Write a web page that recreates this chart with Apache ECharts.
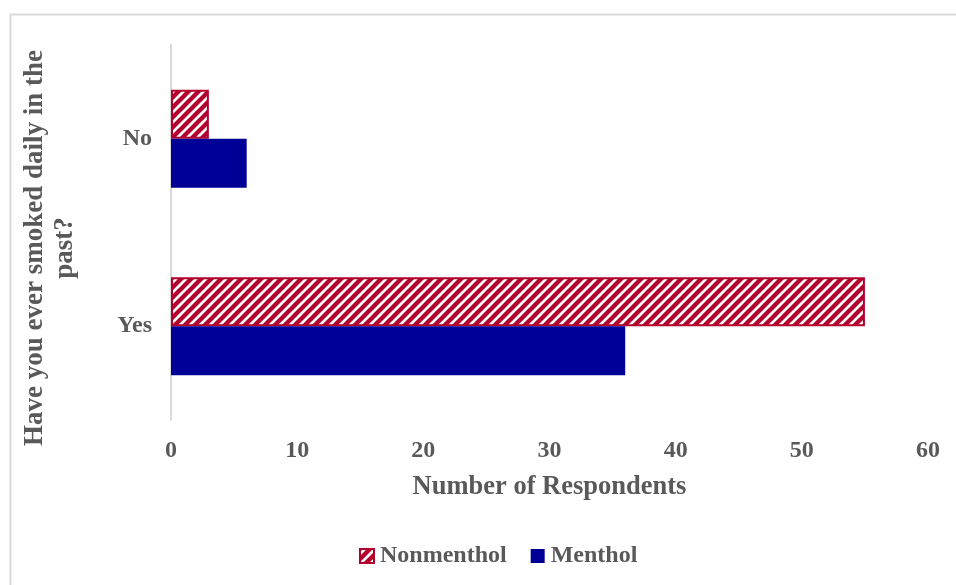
<!DOCTYPE html>
<html>
<head>
<meta charset="utf-8">
<script src="https://cdn.jsdelivr.net/npm/echarts@6/dist/echarts.min.js"></script>
<style>
html,body{margin:0;padding:0;background:#fff;}
#chart{width:956px;height:585px;}
</style>
</head>
<body>
<div id="chart"></div>
<script>
var categories = ['Yes', 'No'];
var nonmentholValues = [55, 3];
var mentholValues = [36, 6];
var seriesNames = ['Nonmenthol', 'Menthol'];
var xMin = 0, xMax = 60, xInterval = 10;
var xTitle = 'Number of Respondents';
var yTitle = 'Have you ever smoked daily in the\npast?';

var RED = '#B3002D';
var NAVY = '#000096';
var TXT = '#595959';
var FONT = 'Liberation Serif';

function makeHatch() {
  var s = 10;
  var c = document.createElement('canvas');
  c.width = s; c.height = s;
  var ctx = c.getContext('2d');
  ctx.fillStyle = '#ffffff';
  ctx.fillRect(0, 0, s, s);
  ctx.strokeStyle = RED;
  ctx.lineWidth = 4.4;
  ctx.beginPath();
  ctx.moveTo(-3, 3); ctx.lineTo(3, -3);
  ctx.moveTo(-3, s + 3); ctx.lineTo(s + 3, -3);
  ctx.moveTo(s - 3, s + 3); ctx.lineTo(s + 3, s - 3);
  ctx.stroke();
  return c;
}
var hatch = makeHatch();

var chart = echarts.init(document.getElementById('chart'), null, {renderer: 'canvas'});
chart.setOption({
  animation: false,
  backgroundColor: '#ffffff',
  grid: {left: 171, right: 28, top: 45, bottom: 165, containLabel: false},
  xAxis: {
    type: 'value', min: xMin, max: xMax, interval: xInterval,
    axisLine: {show: false}, axisTick: {show: false}, splitLine: {show: false},
    axisLabel: {margin: 19, color: TXT, fontFamily: FONT, fontWeight: 'bold', fontSize: 24},
    name: xTitle, nameLocation: 'middle', nameGap: 54,
    nameTextStyle: {color: TXT, fontFamily: FONT, fontWeight: 'bold', fontSize: 26.5}
  },
  yAxis: {
    type: 'category', data: categories,
    axisLine: {show: true, lineStyle: {color: '#d9d9d9', width: 2}},
    axisTick: {show: false},
    axisLabel: {margin: 19, color: TXT, fontFamily: FONT, fontWeight: 'bold', fontSize: 24}
  },
  legend: {
    data: seriesNames,
    left: 354, top: 539,
    itemWidth: 14, itemHeight: 14, itemGap: 24,
    icon: 'rect',
    textStyle: {color: TXT, fontFamily: FONT, fontWeight: 'bold', fontSize: 24, padding: [0, 0, 0, 1]}
  },
  series: [
    {
      name: 'Nonmenthol', type: 'bar', data: nonmentholValues,
      barWidth: 49, barGap: '0%',
      itemStyle: {color: {image: hatch, repeat: 'repeat'}, borderColor: RED, borderWidth: 2}
    },
    {
      name: 'Menthol', type: 'bar', data: mentholValues,
      barWidth: 49, barGap: '0%',
      itemStyle: {color: NAVY}
    }
  ],
  graphic: [
    {type: 'rect', shape: {x: 10.5, y: 14.5, width: 1000, height: 700}, style: {fill: 'none', stroke: '#d9d9d9', lineWidth: 2}, silent: true},
    {type: 'text', x: 50, y: 248, rotation: Math.PI / 2,
     style: {text: yTitle, fill: TXT, font: 'bold 27px "Liberation Serif"', align: 'center', verticalAlign: 'middle', lineHeight: 30}}
  ]
});
</script>
</body>
</html>
